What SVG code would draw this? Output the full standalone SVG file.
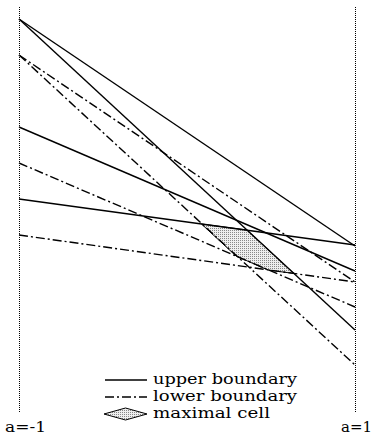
<svg xmlns="http://www.w3.org/2000/svg" width="373" height="438" viewBox="0 0 373 438">
<style>
.ax{stroke:#000;stroke-width:1;stroke-dasharray:1 1;fill:none}
.up{stroke:#000;stroke-width:1.4;fill:none}
.lo{stroke:#000;stroke-width:1.4;fill:none;stroke-dasharray:9 3 2 3}
.cell{fill:url(#dots);stroke:#000;stroke-width:1}
text{font-family:"DejaVu Serif","Liberation Serif",serif;font-size:14.5px;fill:#000}
</style>
<defs>
<pattern id="dots" width="2" height="2" patternUnits="userSpaceOnUse">
<rect width="2" height="2" fill="#eee"/>
<rect x="0" y="0" width="1" height="1" fill="#888"/>
</pattern>
</defs>
<g id="axes">
<line class="ax" x1="19.5" y1="7" x2="19.5" y2="412"/>
<line class="ax" x1="355.5" y1="7" x2="355.5" y2="412"/>
</g>
<g id="cell">
<polygon class="cell" points="201.5,224 247,230 294,273.5 268,270 236,256"/>
</g>
<g id="connectors">
<line class="up" x1="19" y1="19" x2="355" y2="246"/>
<line class="up" x1="19" y1="19" x2="355" y2="330"/>
<line class="up" x1="19" y1="127" x2="355" y2="271"/>
<line class="up" x1="19" y1="199" x2="355" y2="245"/>
<line class="lo" x1="19" y1="55" x2="355" y2="282"/>
<line class="lo" x1="19" y1="55" x2="355" y2="365"/>
<line class="lo" x1="19" y1="163" x2="355" y2="307"/>
<line class="lo" x1="19" y1="235" x2="355" y2="282"/>
</g>
<g id="legend">
<line class="up" x1="105" y1="380" x2="147" y2="380"/>
<text x="153" y="384" textLength="144" lengthAdjust="spacingAndGlyphs">upper boundary</text>
<line class="lo" x1="105" y1="397" x2="147" y2="397"/>
<text x="153" y="401" textLength="144" lengthAdjust="spacingAndGlyphs">lower boundary</text>
<polygon class="cell" points="104,414 125.5,408 147,414 125.5,420"/>
<text x="153" y="418" textLength="117" lengthAdjust="spacingAndGlyphs">maximal cell</text>
</g>
<g id="labels">
<text x="5" y="432" textLength="41" lengthAdjust="spacingAndGlyphs">a=-1</text>
<text x="341" y="432" textLength="31" lengthAdjust="spacingAndGlyphs">a=1</text>
</g>
</svg>
